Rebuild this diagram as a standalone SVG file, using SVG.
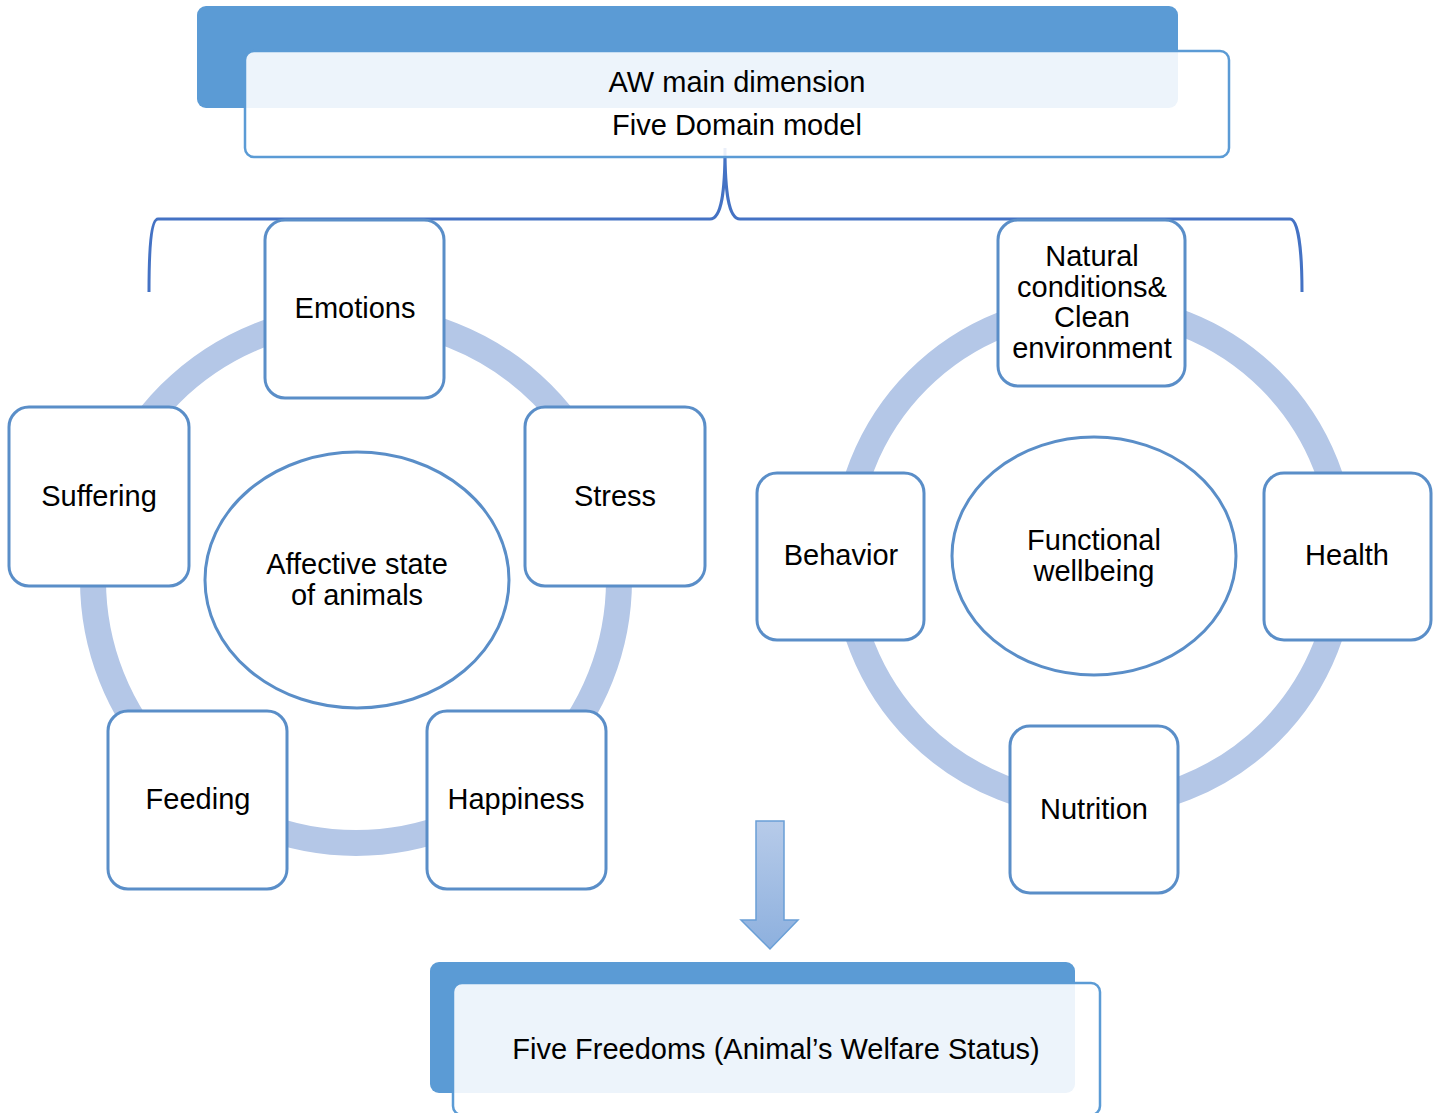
<svg xmlns="http://www.w3.org/2000/svg" width="1442" height="1113" viewBox="0 0 1442 1113">
<style>
text{font-family:"Liberation Sans",Arial,sans-serif;font-size:29px;fill:#000;text-anchor:middle}
.box{fill:#fff;stroke:#5a8ec8;stroke-width:3}
.ring{fill:none;stroke:#b4c7e7;stroke-width:26}
.dark{fill:#5b9bd5}
.light{fill:#fff;fill-opacity:0.89;stroke:#5b9bd5;stroke-width:2.5}
</style>
<defs>
<linearGradient id="ag" x1="0" y1="0" x2="0" y2="1">
<stop offset="0" stop-color="#b7cbe9"/>
<stop offset="1" stop-color="#8db0de"/>
</linearGradient>
</defs>
<rect width="1442" height="1113" fill="#fff"/>
<g id="rings">
<circle class="ring" cx="356" cy="580" r="263"/>
<circle class="ring" cx="1094" cy="556" r="249"/>
</g>
<g id="connectors">
<path d="M149,292 C149,250 151,219 158,219 L710,219 C722,219 725,190 725,148 C725,190 728,219 740,219 L1290,219 C1298,219 1302,250 1302,292" fill="none" stroke="#4472c4" stroke-width="3"/>
<path d="M756,821 L784,821 L784,920 L798,920 L770,949 L741,920 L756,920 Z" fill="url(#ag)" stroke="#6a9fd6" stroke-width="1.5"/>
</g>
<g id="top-banner">
<rect class="dark" x="197" y="6" width="981" height="102" rx="9"/>
<rect class="light" x="245" y="51" width="984" height="106" rx="9"/>
<text x="737" y="92">AW main dimension</text>
<text x="737" y="135">Five Domain model</text>
</g>
<g id="affective">
<ellipse cx="357" cy="580" rx="152" ry="128" fill="#fff" stroke="#5a8ec8" stroke-width="3"/>
<text x="357" y="574">Affective state</text>
<text x="357" y="605">of animals</text>
</g>
<g id="emotions"><rect class="box" x="265" y="220" width="179" height="178" rx="20"/><text x="355" y="318">Emotions</text></g>
<g id="suffering"><rect class="box" x="9" y="407" width="180" height="179" rx="20"/><text x="99" y="506">Suffering</text></g>
<g id="stress"><rect class="box" x="525" y="407" width="180" height="179" rx="20"/><text x="615" y="506">Stress</text></g>
<g id="feeding"><rect class="box" x="108" y="711" width="179" height="178" rx="20"/><text x="198" y="809">Feeding</text></g>
<g id="happiness"><rect class="box" x="427" y="711" width="179" height="178" rx="20"/><text x="516" y="809">Happiness</text></g>
<g id="functional">
<ellipse cx="1094" cy="556" rx="142" ry="119" fill="#fff" stroke="#5a8ec8" stroke-width="3"/>
<text x="1094" y="550">Functional</text>
<text x="1094" y="581">wellbeing</text>
</g>
<g id="natural"><rect class="box" x="998" y="220" width="187" height="166" rx="20"/>
<text x="1092" y="266">Natural</text><text x="1092" y="297">conditions&amp;</text><text x="1092" y="327">Clean</text><text x="1092" y="358">environment</text></g>
<g id="behavior"><rect class="box" x="757" y="473" width="167" height="167" rx="20"/><text x="841" y="565">Behavior</text></g>
<g id="health"><rect class="box" x="1264" y="473" width="167" height="167" rx="20"/><text x="1347" y="565">Health</text></g>
<g id="nutrition"><rect class="box" x="1010" y="726" width="168" height="167" rx="20"/><text x="1094" y="819">Nutrition</text></g>
<g id="bottom-banner">
<rect class="dark" x="430" y="962" width="645" height="131" rx="9"/>
<rect class="light" x="453" y="983" width="647" height="132" rx="9"/>
<text x="776" y="1059">Five Freedoms (Animal’s Welfare Status)</text>
</g>
</svg>
